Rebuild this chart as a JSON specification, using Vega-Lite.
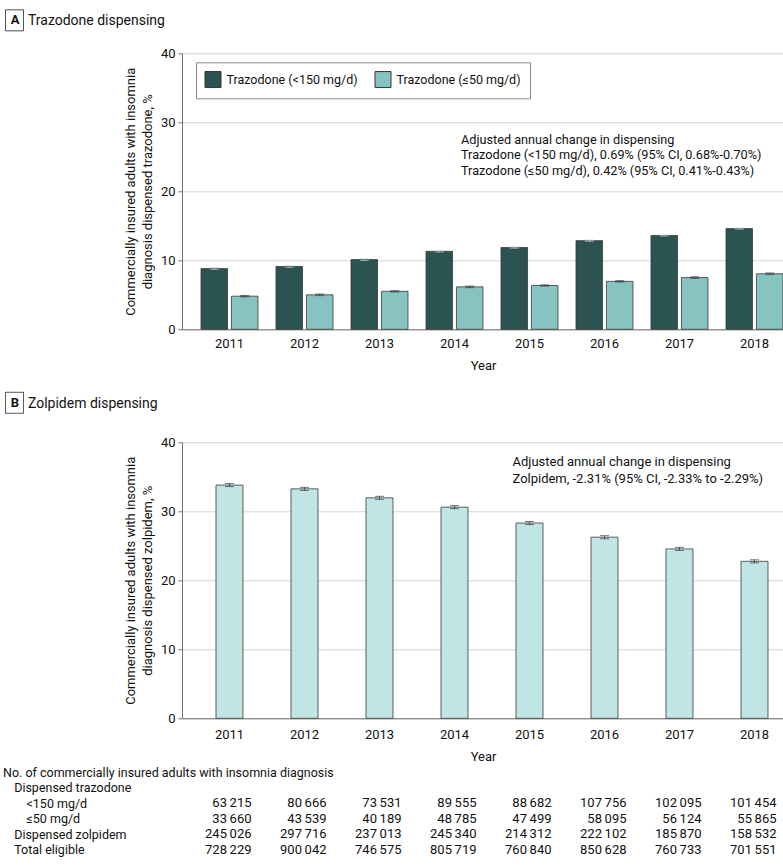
{
  "$schema": "https://vega.github.io/schema/vega-lite/v6.json",
  "padding": {"left": 2, "right": 0, "top": 9.3, "bottom": 0},
  "spacing": 0,
  "resolve": {"scale": {"x": "independent", "y": "independent", "strokeDash": "independent", "color": "independent"}, "legend": {"strokeDash": "independent", "color": "independent"}},
  "config": {
    "font": "Roboto",
    "view": {"stroke": null},
    "axis": {"labelFontSize": 13, "titleFontSize": 13, "titleFontWeight": "normal", "labelColor": "#111", "titleColor": "#111", "domainColor": "#6f6f6f", "tickColor": "#6f6f6f", "gridColor": "#d4d4d4"},
    "title": {"fontSize": 14, "fontWeight": "normal", "anchor": "start", "frame": "group", "color": "#111"}
  },
  "datasets": {
    "traz": [
      {"year": "2011", "series": "Trazodone (<150 mg/d)", "value": 8.8, "lo": 8.68, "hi": 8.92},
      {"year": "2011", "series": "Trazodone (≤50 mg/d)", "value": 4.8, "lo": 4.7, "hi": 4.9},
      {"year": "2012", "series": "Trazodone (<150 mg/d)", "value": 9.1, "lo": 8.98, "hi": 9.22},
      {"year": "2012", "series": "Trazodone (≤50 mg/d)", "value": 5.0, "lo": 4.88, "hi": 5.12},
      {"year": "2013", "series": "Trazodone (<150 mg/d)", "value": 10.1, "lo": 9.98, "hi": 10.22},
      {"year": "2013", "series": "Trazodone (≤50 mg/d)", "value": 5.5, "lo": 5.4, "hi": 5.6},
      {"year": "2014", "series": "Trazodone (<150 mg/d)", "value": 11.3, "lo": 11.2, "hi": 11.4},
      {"year": "2014", "series": "Trazodone (≤50 mg/d)", "value": 6.15, "lo": 6.03, "hi": 6.27},
      {"year": "2015", "series": "Trazodone (<150 mg/d)", "value": 11.85, "lo": 11.75, "hi": 11.95},
      {"year": "2015", "series": "Trazodone (≤50 mg/d)", "value": 6.35, "lo": 6.26, "hi": 6.44},
      {"year": "2016", "series": "Trazodone (<150 mg/d)", "value": 12.85, "lo": 12.76, "hi": 12.94},
      {"year": "2016", "series": "Trazodone (≤50 mg/d)", "value": 6.95, "lo": 6.85, "hi": 7.05},
      {"year": "2017", "series": "Trazodone (<150 mg/d)", "value": 13.6, "lo": 13.52, "hi": 13.68},
      {"year": "2017", "series": "Trazodone (≤50 mg/d)", "value": 7.5, "lo": 7.38, "hi": 7.62},
      {"year": "2018", "series": "Trazodone (<150 mg/d)", "value": 14.6, "lo": 14.52, "hi": 14.68},
      {"year": "2018", "series": "Trazodone (≤50 mg/d)", "value": 8.05, "lo": 7.93, "hi": 8.17}
    ],
    "zolp": [
      {"year": "2011", "value": 33.8, "lo": 33.58, "hi": 34.02},
      {"year": "2012", "value": 33.25, "lo": 33.03, "hi": 33.47},
      {"year": "2013", "value": 31.95, "lo": 31.73, "hi": 32.17},
      {"year": "2014", "value": 30.6, "lo": 30.38, "hi": 30.82},
      {"year": "2015", "value": 28.3, "lo": 28.08, "hi": 28.52},
      {"year": "2016", "value": 26.25, "lo": 26.03, "hi": 26.47},
      {"year": "2017", "value": 24.55, "lo": 24.33, "hi": 24.77},
      {"year": "2018", "value": 22.75, "lo": 22.53, "hi": 22.97}
    ],
    "table": [
      {"row": "<150 mg/d", "year": "2011", "n": "63\u2009215"},
      {"row": "<150 mg/d", "year": "2012", "n": "80\u2009666"},
      {"row": "<150 mg/d", "year": "2013", "n": "73\u2009531"},
      {"row": "<150 mg/d", "year": "2014", "n": "89\u2009555"},
      {"row": "<150 mg/d", "year": "2015", "n": "88\u2009682"},
      {"row": "<150 mg/d", "year": "2016", "n": "107\u2009756"},
      {"row": "<150 mg/d", "year": "2017", "n": "102\u2009095"},
      {"row": "<150 mg/d", "year": "2018", "n": "101\u2009454"},
      {"row": "≤50 mg/d", "year": "2011", "n": "33\u2009660"},
      {"row": "≤50 mg/d", "year": "2012", "n": "43\u2009539"},
      {"row": "≤50 mg/d", "year": "2013", "n": "40\u2009189"},
      {"row": "≤50 mg/d", "year": "2014", "n": "48\u2009785"},
      {"row": "≤50 mg/d", "year": "2015", "n": "47\u2009499"},
      {"row": "≤50 mg/d", "year": "2016", "n": "58\u2009095"},
      {"row": "≤50 mg/d", "year": "2017", "n": "56\u2009124"},
      {"row": "≤50 mg/d", "year": "2018", "n": "55\u2009865"},
      {"row": "Dispensed zolpidem", "year": "2011", "n": "245\u2009026"},
      {"row": "Dispensed zolpidem", "year": "2012", "n": "297\u2009716"},
      {"row": "Dispensed zolpidem", "year": "2013", "n": "237\u2009013"},
      {"row": "Dispensed zolpidem", "year": "2014", "n": "245\u2009340"},
      {"row": "Dispensed zolpidem", "year": "2015", "n": "214\u2009312"},
      {"row": "Dispensed zolpidem", "year": "2016", "n": "222\u2009102"},
      {"row": "Dispensed zolpidem", "year": "2017", "n": "185\u2009870"},
      {"row": "Dispensed zolpidem", "year": "2018", "n": "158\u2009532"},
      {"row": "Total eligible", "year": "2011", "n": "728\u2009229"},
      {"row": "Total eligible", "year": "2012", "n": "900\u2009042"},
      {"row": "Total eligible", "year": "2013", "n": "746\u2009575"},
      {"row": "Total eligible", "year": "2014", "n": "805\u2009719"},
      {"row": "Total eligible", "year": "2015", "n": "760\u2009840"},
      {"row": "Total eligible", "year": "2016", "n": "850\u2009628"},
      {"row": "Total eligible", "year": "2017", "n": "760\u2009733"},
      {"row": "Total eligible", "year": "2018", "n": "701\u2009551"}
    ]
  },
  "vconcat": [
    {
      "width": 602,
      "height": 276,
      "title": {"text": "Trazodone dispensing", "dx": -154, "offset": -19.2},
      "layer": [
        {
          "data": {"name": "traz"},
          "mark": {"type": "bar", "stroke": "#3a3a3a", "strokeWidth": 0.8},
          "encoding": {
            "x": {"field": "year", "type": "ordinal", "title": "Year",
                  "scale": {"type": "band", "paddingInner": 0.24, "paddingOuter": 0.1333, "align": 0.95},
                  "axis": {"labelAngle": 0, "ticks": false, "labelPadding": 8, "titlePadding": 9, "grid": false}},
            "xOffset": {"field": "series", "type": "nominal",
                        "scale": {"domain": ["Trazodone (<150 mg/d)", "Trazodone (≤50 mg/d)"], "paddingInner": 0.129, "paddingOuter": 0}},
            "y": {"field": "value", "type": "quantitative",
                  "title": ["Commercially insured adults with insomnia", "diagnosis dispensed trazodone, %"],
                  "scale": {"domain": [0, 40]},
                  "axis": {"values": [0, 10, 20, 30, 40], "tickSize": 4, "labelPadding": 3, "titlePadding": 6, "titleLineHeight": 17, "grid": true}},
            "color": {"field": "series", "type": "nominal",
                      "scale": {"domain": ["Trazodone (<150 mg/d)", "Trazodone (≤50 mg/d)"], "range": ["#2a5352", "#86c3c1"]},
                      "legend": {"orient": "none", "legendX": 14, "legendY": 9, "direction": "horizontal", "title": null,
                                 "strokeColor": "#8a8a8a", "fillColor": "white", "padding": 8.5,
                                 "symbolType": "square", "symbolSize": 256, "symbolStrokeColor": "#333", "symbolStrokeWidth": 1, "symbolOpacity": 1,
                                 "labelFontSize": 12.5, "labelColor": "#111", "columnPadding": 14, "labelOffset": 5}}
          }
        },
        {
          "data": {"name": "traz"},
          "mark": {"type": "rule", "strokeWidth": 1},
          "encoding": {
            "x": {"field": "year", "type": "ordinal"},
            "xOffset": {"field": "series", "type": "nominal"},
            "y": {"field": "lo", "type": "quantitative"},
            "y2": {"field": "hi"},
            "color": {"condition": {"test": "datum.series === 'Trazodone (<150 mg/d)'", "value": "#c9c9c9"}, "value": "#3a3a3a"},
            "strokeDash": {"datum": "A", "type": "nominal",
                           "legend": {"orient": "none", "legendX": -178.5, "legendY": -44, "title": null, "padding": 0,
                                      "symbolType": "M-0.857,-1H0.857V1H-0.857Z", "symbolSize": 441,
                                      "symbolFillColor": "white", "symbolStrokeColor": "#333", "symbolStrokeWidth": 1, "symbolOpacity": 1,
                                      "labelAlign": "center", "labelOffset": -10.5,
                                      "labelFontSize": 13, "labelFontWeight": "bold", "labelColor": "#111"}}
          }
        },
        {
          "data": {"name": "traz"},
          "mark": {"type": "tick", "size": 9, "thickness": 1},
          "encoding": {
            "x": {"field": "year", "type": "ordinal"},
            "xOffset": {"field": "series", "type": "nominal"},
            "y": {"field": "lo", "type": "quantitative"},
            "color": {"condition": {"test": "datum.series === 'Trazodone (<150 mg/d)'", "value": "#c9c9c9"}, "value": "#3a3a3a"}
          }
        },
        {
          "data": {"name": "traz"},
          "mark": {"type": "tick", "size": 9, "thickness": 1},
          "encoding": {
            "x": {"field": "year", "type": "ordinal"},
            "xOffset": {"field": "series", "type": "nominal"},
            "y": {"field": "hi", "type": "quantitative"},
            "color": {"condition": {"test": "datum.series === 'Trazodone (<150 mg/d)'", "value": "#c9c9c9"}, "value": "#3a3a3a"}
          }
        },
        {
          "data": {"values": [
            {"year": "2014", "v": 27.43, "t": "Adjusted annual change in dispensing"},
            {"year": "2014", "v": 25.19, "t": "Trazodone (<150 mg/d), 0.69% (95% CI, 0.68%-0.70%)"},
            {"year": "2014", "v": 22.94, "t": "Trazodone (≤50 mg/d), 0.42% (95% CI, 0.41%-0.43%)"}
          ]},
          "mark": {"type": "text", "align": "left", "baseline": "middle", "dx": 6.5, "fontSize": 12.7, "color": "#111"},
          "encoding": {
            "x": {"field": "year", "type": "ordinal"},
            "y": {"field": "v", "type": "quantitative"},
            "text": {"field": "t"}
          }
        }
      ]
    },
    {
      "width": 602,
      "height": 276,
      "title": {"text": ["", "Zolpidem dispensing"], "dx": -154, "offset": -19.5, "lineHeight": 24.5},
      "layer": [
        {
          "data": {"name": "zolp"},
          "mark": {"type": "bar", "stroke": "#3a3a3a", "strokeWidth": 0.8, "color": "#c0e5e5", "width": {"band": 0.4737}},
          "encoding": {
            "x": {"field": "year", "type": "ordinal", "title": "Year",
                  "scale": {"type": "band", "paddingInner": 0.24, "paddingOuter": 0.1333, "align": 0.95},
                  "axis": {"labelAngle": 0, "ticks": false, "labelPadding": 10, "titlePadding": 9.5, "grid": false}},
            "y": {"field": "value", "type": "quantitative",
                  "title": ["Commercially insured adults with insomnia", "diagnosis dispensed zolpidem, %"],
                  "scale": {"domain": [0, 40]},
                  "axis": {"values": [0, 10, 20, 30, 40], "tickSize": 4, "labelPadding": 3, "titlePadding": 6, "titleLineHeight": 17, "grid": true}}
          }
        },
        {
          "data": {"name": "zolp"},
          "mark": {"type": "rule", "strokeWidth": 1, "color": "#3a3a3a"},
          "encoding": {
            "x": {"field": "year", "type": "ordinal"},
            "y": {"field": "lo", "type": "quantitative"},
            "y2": {"field": "hi"},
            "strokeDash": {"datum": "B", "type": "nominal",
                           "legend": {"orient": "none", "legendX": -178.5, "legendY": -50.5, "title": null, "padding": 0,
                                      "symbolType": "M-0.857,-1H0.857V1H-0.857Z", "symbolSize": 441,
                                      "symbolFillColor": "white", "symbolStrokeColor": "#333", "symbolStrokeWidth": 1, "symbolOpacity": 1,
                                      "labelAlign": "center", "labelOffset": -10.5,
                                      "labelFontSize": 13, "labelFontWeight": "bold", "labelColor": "#111"}}
          }
        },
        {
          "data": {"name": "zolp"},
          "mark": {"type": "tick", "size": 9, "thickness": 1, "color": "#3a3a3a"},
          "encoding": {
            "x": {"field": "year", "type": "ordinal"},
            "y": {"field": "lo", "type": "quantitative"}
          }
        },
        {
          "data": {"name": "zolp"},
          "mark": {"type": "tick", "size": 9, "thickness": 1, "color": "#3a3a3a"},
          "encoding": {
            "x": {"field": "year", "type": "ordinal"},
            "y": {"field": "hi", "type": "quantitative"}
          }
        },
        {
          "data": {"values": [
            {"year": "2015", "v": 37.15, "t": "Adjusted annual change in dispensing"},
            {"year": "2015", "v": 34.7, "t": "Zolpidem, -2.31% (95% CI, -2.33% to -2.29%)"}
          ]},
          "mark": {"type": "text", "align": "left", "baseline": "middle", "dx": -17, "fontSize": 13, "color": "#111"},
          "encoding": {
            "x": {"field": "year", "type": "ordinal"},
            "y": {"field": "v", "type": "quantitative"},
            "text": {"field": "t"}
          }
        }
      ]
    },
    {
      "width": 602,
      "height": 93,
      "data": {"name": "table"},
      "mark": {"type": "text", "align": "right", "baseline": "middle", "dx": 22, "fontSize": 13, "color": "#111"},
      "encoding": {
        "x": {"field": "year", "type": "ordinal",
              "scale": {"type": "band", "domain": ["2011", "2012", "2013", "2014", "2015", "2016", "2017", "2018"], "paddingInner": 0.24, "paddingOuter": 0.1333, "align": 0.95},
              "axis": null},
        "y": {"field": "row", "type": "nominal",
              "scale": {"domain": ["No. of commercially insured adults with insomnia diagnosis", "Dispensed trazodone", "<150 mg/d", "≤50 mg/d", "Dispensed zolpidem", "Total eligible"]},
              "axis": {"title": null, "domain": false, "ticks": false, "grid": false, "labelAlign": "left", "labelLimit": 0, "labelFontSize": 12.5,
                       "labelPadding": {"condition": [
                         {"test": "datum.value === 'No. of commercially insured adults with insomnia diagnosis'", "value": 179.5},
                         {"test": "datum.value === '<150 mg/d' || datum.value === '≤50 mg/d'", "value": 156}
                       ], "value": 168.3}}},
        "text": {"field": "n"}
      }
    }
  ]
}
